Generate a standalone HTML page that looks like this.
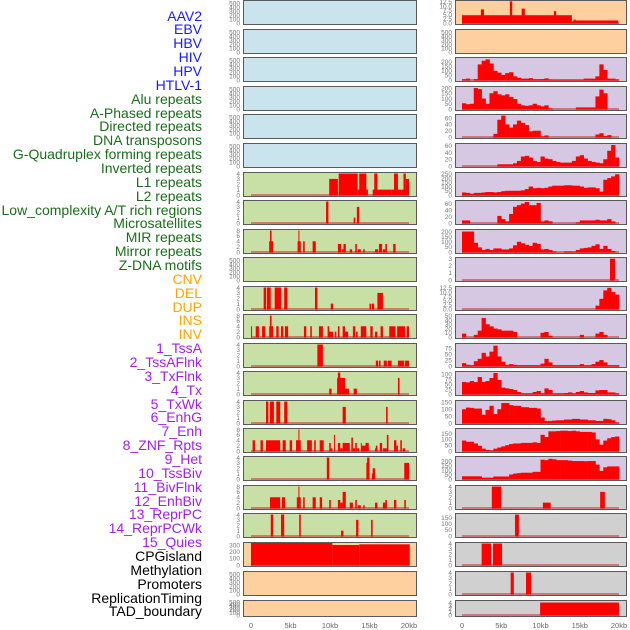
<!DOCTYPE html>
<html><head><meta charset="utf-8"><style>
body{margin:0;background:#fff;width:630px;height:630px;overflow:hidden;position:relative;font-family:"Liberation Sans",sans-serif}
.lab{position:absolute;right:428px;font-size:14px;line-height:14px;white-space:nowrap}
svg{position:absolute;left:0;top:0}
</style></head><body>
<div id="labels"></div>
<svg id="chart" width="630" height="630"></svg>
<script>
const labelNames = ["AAV2","EBV","HBV","HIV","HPV","HTLV-1","Alu repeats","A-Phased repeats","Directed repeats","DNA transposons","G-Quadruplex forming repeats","Inverted repeats","L1 repeats","L2 repeats","Low_complexity A/T rich regions","Microsatellites","MIR repeats","Mirror repeats","Z-DNA motifs","CNV","DEL","DUP","INS","INV","1_TssA","2_TssAFlnk","3_TxFlnk","4_Tx","5_TxWk","6_EnhG","7_Enh","8_ZNF_Rpts","9_Het","10_TssBiv","11_BivFlnk","12_EnhBiv","13_ReprPC","14_ReprPCWk","15_Quies","CPGisland","Methylation","Promoters","ReplicationTiming","TAD_boundary"];
const labelGroups = [6,13,5,15,5];
const groupColors = ["#1a1aff","#1a6e1a","#ffa500","#a020f0","#000000"];

const rowTops = [0,29,57,86,114,143,172,200,229,257,286,314,343,371,400,428,456,485,513,542,571,600];
const leftBg = ["b","b","b","b","b","b","g","g","g","g","g","g","g","g","g","g","g","g","g","o","o","o"];
const rightBg = ["o","o","p","p","p","p","p","p","p","p","p","p","p","p","p","p","p","k","k","k","k","k"];
const leftMax = [550,550,550,550,550,550,4.1,4.1,8.2,550,4.1,8.2,4.1,4.1,4.1,8.2,4.1,8.2,4.1,330,550,550];
const rightMax = [13,550,240,210,70,65,260,68,215,3.1,13,52,92,110,160,190,245,4.1,180,4.1,4.1,4.5];
const leftTicks = [[0,100,200,300,400,500],[0,100,200,300,400,500],[0,100,200,300,400,500],[0,100,200,300,400,500],[0,100,200,300,400,500],[0,100,200,300,400,500],[0,1,2,3,4],[0,1,2,3,4],[0,2,4,6,8],[0,100,200,300,400,500],[0,1,2,3,4],[0,2,4,6,8],[0,1,2,3,4],[0,1,2,3,4],[0,1,2,3,4],[0,2,4,6,8],[0,1,2,3,4],[0,2,4,6,8],[0,1,2,3,4],[0,100,200,300],[0,100,200,300,400,500],[0,100,200,300,400,500]];
const rightTicks = [["0.0","2.5","5.0","7.5","10.0","12.5"],[0,100,200,300,400,500],[0,50,100,150,200],[0,50,100,150,200],[0,20,40,60],[0,20,40,60],[0,50,100,150,200,250],[0,20,40,60],[0,50,100,150,200],[0,1,2,3],["0.0","2.5","5.0","7.5","10.0","12.5"],[0,10,20,30,40,50],[0,25,50,75],[0,25,50,75,100],[0,50,100,150],[0,50,100,150],[0,50,100,150,200],[0,1,2,3,4],[0,50,100,150],[0,1,2,3,4],[0,1,2,3,4],[0,1,2,3,4]];

// segments [startKb, endKb, value]
const leftSegs = [[],[],[],[],[],[],
[[9.9,11.0,3],[11.1,13.5,4],[13.5,14.8,1],[13.7,14.6,4],[15.4,17.8,1],[15.6,16.0,4],[17.8,18.1,1],[18.1,18.6,4],[18.6,19.1,1],[19.1,20,1],[19.3,19.6,4],[19.6,20,3]],
[[9.5,9.8,4],[13.0,13.2,1],[13.4,13.7,3]],
[[2.3,2.8,4],[2.4,2.6,8],[5.9,6.3,4],[6.0,6.1,8],[6.6,6.8,4],[7.8,8.2,4],[11.0,11.4,3],[11.5,11.7,1],[11.7,12.0,3],[12.5,12.8,1],[13.2,13.4,3],[13.5,13.9,1],[14.2,14.4,1],[15.7,16.1,1],[16.2,16.6,3],[16.7,17.0,1],[17.0,17.2,3],[18.0,18.3,3]],
[],
[[1.6,1.9,4],[2.0,2.5,4],[3.0,3.8,4],[4.2,4.6,4],[8.1,8.4,4],[10.1,10.4,1],[15.0,15.2,1],[15.3,15.6,1],[16.0,16.7,3]],
[[0,0.1,4],[0.6,1.0,4],[1.4,1.8,4],[2.3,2.8,4],[2.4,2.6,8],[3.2,3.5,4],[3.8,4.1,4],[4.3,4.7,4],[6.7,7.0,4],[7.5,7.7,4],[8.6,9.1,4],[9.7,9.9,4],[9.8,10.4,2],[10.6,10.8,2],[11.0,11.2,4],[11.6,11.9,4],[11.9,12.3,2],[12.9,13.2,4],[13.3,13.5,2],[13.9,14.6,4],[15.1,15.4,4],[15.7,16.0,2],[16.4,16.7,4],[17.5,18.3,4],[18.5,19.5,4],[19.7,20,4]],
[[8.4,9.1,4],[15.8,16.1,1],[16.2,16.4,1],[16.8,17.2,1],[17.3,17.8,1],[18.6,19.4,1],[19.5,20,1]],
[[9.9,10.2,1],[10.9,11.4,3],[11.0,11.3,4],[11.4,11.9,3],[11.9,12.4,1],[13.0,13.4,1],[18.6,18.8,3]],
[[1.9,2.2,4],[2.4,2.9,4],[3.2,3.7,4],[4.2,4.6,4],[11.6,12.0,3],[17.1,17.3,3]],
[[0.2,0.5,4],[1.2,1.5,4],[1.9,3.7,4],[4.0,4.4,4],[4.9,5.2,4],[5.7,6.3,4],[6.0,6.1,8],[7.1,7.7,4],[8.0,8.2,4],[8.7,9.2,4],[9.9,10.1,3],[10.1,10.3,1],[10.5,10.6,6],[11.0,11.3,3],[11.3,11.6,1],[11.6,12.5,3],[12.7,12.9,5],[12.9,13.2,1],[13.2,13.4,3],[13.4,13.7,1],[13.9,14.0,3],[14.0,14.9,2],[14.5,14.9,3],[15.7,16.0,1],[15.8,16.0,2],[16.3,16.6,3],[16.7,17.2,1],[17.2,17.4,6],[18.1,18.4,4],[18.4,18.6,2],[18.9,19.1,4],[19.2,19.5,1]],
[[9.6,9.9,4],[14.6,14.9,3],[14.7,15.0,4],[15.3,15.7,1],[15.4,15.7,2],[19.4,20.0,3]],
[[2.4,3.7,4],[3.9,4.3,4],[5.8,6.3,4],[6.0,6.1,8],[6.6,6.8,4],[7.8,8.2,4],[8.7,9.0,4],[9.9,10.1,3],[11.0,11.3,3],[11.3,11.6,2],[11.6,12.0,6],[12.5,12.9,2],[13.2,13.4,3],[13.5,13.9,1],[14.2,14.4,1],[15.7,16.0,2],[16.7,17.1,2],[17.0,17.2,3],[18.1,18.4,3],[19.4,19.6,3]],
[[2.5,2.8,4],[3.8,4.2,4],[6.1,6.3,4],[11.4,11.7,1],[13.3,13.6,3],[15.2,15.4,3]],
[[0,10.3,330],[10.3,13.7,300],[13.7,20.1,310]],
[],[]];

const rightSegs = [
[[0,14.0,4.6],[2.4,2.8,8],[6.1,6.4,12.8],[7.6,8.0,8.5],[11.7,12.0,7],[14.0,14.3,1],[14.2,14.5,2],[14.3,19.9,1.5]],
[],[],[],[],[],[],[],[],
[[18.85,19.5,3]],
[],[],[],[],[],[],[],
[[3.8,5.0,4],[10.3,11.3,1],[17.6,18.2,3]],
[[6.75,7.25,175]],
[[2.5,3.7,4],[3.95,5.1,4]],
[[6.2,6.6,4],[8.15,8.8,4]],
[[9.95,20,4]]];

// 0.5 kb bins for profile tracks (right rows 2-16)
const rightBins = {
2:[8,15,0,10,170,210,225,180,100,80,55,75,85,40,25,15,15,20,8,8,10,18,5,3,3,3,3,3,3,3,3,15,15,15,40,170,110,15,15,5],
3:[55,45,50,200,190,100,50,150,170,140,130,140,115,95,50,35,30,35,50,35,25,35,5,0,0,0,0,0,0,15,15,15,15,15,120,185,150,0,0,0],
4:[0,0,0,0,0,0,0,0,10,55,68,40,30,40,52,45,38,18,20,20,2,5,0,0,0,0,0,0,0,0,0,0,0,0,8,12,3,6,0,0],
5:[0,0,0,0,0,0,0,0,0,5,5,5,5,8,15,28,30,25,15,12,28,22,20,15,12,10,10,10,15,28,32,22,15,12,10,8,20,45,62,25],
6:[30,25,15,25,25,30,35,35,30,35,45,50,50,50,50,55,70,100,80,85,80,85,100,110,110,110,115,115,110,110,100,85,90,90,80,40,180,200,220,245],
7:[8,8,0,0,0,0,0,0,0,22,12,5,28,50,55,60,65,55,55,62,5,8,5,0,0,0,0,0,0,2,8,8,8,8,10,8,8,12,5,0],
8:[200,200,200,90,45,20,30,20,35,35,25,25,35,65,100,85,70,60,90,80,25,30,20,5,0,0,5,5,3,20,35,40,45,60,75,30,60,30,10,0],
10:[0,0,0,0,0,0,0,0,0,0,0,0,0,0,0,0,0,0,0,0,0,0,0,0,0,0,0,0,0,0,0,0,0,0,2,6,11,12.5,10,8.5],
11:[8,0,0,5,15,45,30,25,20,18,15,15,15,12,0,0,0,0,0,0,10,12,3,0,0,0,0,0,0,0,5,0,0,0,8,12,5,0,0,0],
12:[12,5,3,20,30,55,40,60,85,40,18,5,8,5,3,3,3,3,3,3,10,30,15,3,3,3,3,3,3,3,8,3,3,8,18,25,15,3,3,3],
13:[60,58,65,60,85,60,65,80,105,70,32,28,25,20,10,3,3,3,10,15,3,28,20,3,3,3,5,8,3,10,15,8,5,5,18,20,20,8,8,3],
14:[100,112,110,105,105,60,95,125,65,100,145,145,130,125,125,115,115,110,110,105,40,15,15,18,20,20,25,25,30,30,25,25,20,20,15,15,30,28,20,3],
15:[90,80,80,65,45,20,10,5,20,30,40,50,60,65,65,70,70,70,75,70,140,120,170,170,172,175,175,172,175,170,165,165,165,160,100,55,90,110,120,125],
16:[30,30,30,30,30,15,15,15,28,28,28,28,50,60,65,70,70,70,80,80,215,210,225,220,210,210,210,205,200,200,200,198,200,200,160,90,130,140,140,140]
};
const xTickKb = [0,5,10,15,20];
const xTickText = ["0","5kb","10kb","15kb","20kb"];

const NS = "http://www.w3.org/2000/svg";
const svg = document.getElementById("chart");
const bgCol = {b:"#c9e4ec",g:"#c8e0a5",o:"#fecf9f",p:"#d6c7e3",k:"#d0d0d0"};
function mk(tag, attrs, parent){const e=document.createElementNS(NS,tag);for(const k in attrs)e.setAttribute(k,attrs[k]);(parent||svg).appendChild(e);return e;}

const labDiv = document.getElementById("labels");
let gi=0, cnt=0;
labelNames.forEach((t,i)=>{
  const d=document.createElement("div");
  d.className="lab";
  d.textContent=t;
  d.style.top=(8.5+i*13.86)+"px";
  d.style.color=groupColors[gi];
  
  
  labDiv.appendChild(d);
  cnt++; if(cnt>=labelGroups[gi] && gi<labelGroups.length-1){gi++;cnt=0;}
});

function panel(col, r){
  const bx = col===0?243:455, bw = col===0?173:171;
  const x0 = col===0?251:462, x1 = col===0?409:619;
  const xs = kb => x0 + (x1-x0)*kb/20;
  const top = rowTops[r], h = r===21?16:24, bot = top+h;
  const ymax = col===0?leftMax[r]:rightMax[r];
  const ys = v => bot-1 - (h-2)*Math.min(v,ymax)/ymax;
  const g = mk("g",{});
  
  
  const bg = mk("rect",{x:bx+0.5,y:top+0.5,width:bw,height:h,fill:bgCol[(col===0?leftBg:rightBg)[r]],stroke:"#5a5a5a","stroke-width":1},g);
  
  
  const segs = (col===0?leftSegs:rightSegs)[r];
  const bins = col===1 ? rightBins[r] : null;
  if(segs.length || bins){
    const bl = mk("rect",{x:xs(0),y:bot-2,width:xs(20)-xs(0),height:2,fill:"#c83030",opacity:0.55},g);
    
    
  }
  segs.forEach(s=>{
    const b = mk("rect",{x:xs(s[0]),y:ys(s[2]),width:Math.max(1,xs(s[1])-xs(s[0])),height:bot-1-ys(s[2])+0.5,fill:"#ff0000"},g);
    
    
  });
  if(bins){
    bins.forEach((v,k)=>{
      if(v<=0) return;
      const b = mk("rect",{x:xs(k*0.5),y:ys(v),width:xs(0.5)-xs(0)+0.3,height:bot-1-ys(v)+0.5,fill:"#ff0000"},g);
      
      
    });
  }
  const ticks = (col===0?leftTicks:rightTicks)[r];
  ticks.forEach(t=>{
    const v = parseFloat(t);
    const tx = mk("text",{x:bx-3,y:ys(v)+2.3,"font-size":6.5,fill:"#777","text-anchor":"end","font-family":"Liberation Sans, sans-serif"},g);
    tx.textContent = t;
    
    
  });
}
for(let r=0;r<22;r++){panel(0,r);panel(1,r);}

[0,1].forEach(col=>{
  const x0 = col===0?251:462, x1 = col===0?409:619;
  xTickKb.forEach((kb,i)=>{
    const t = mk("text",{x:x0+(x1-x0)*kb/20,y:628,"font-size":7.5,fill:"#666","text-anchor":"middle","font-family":"Liberation Sans, sans-serif"});
    t.textContent = xTickText[i];
    
    
  });
});
</script>
</body></html>
